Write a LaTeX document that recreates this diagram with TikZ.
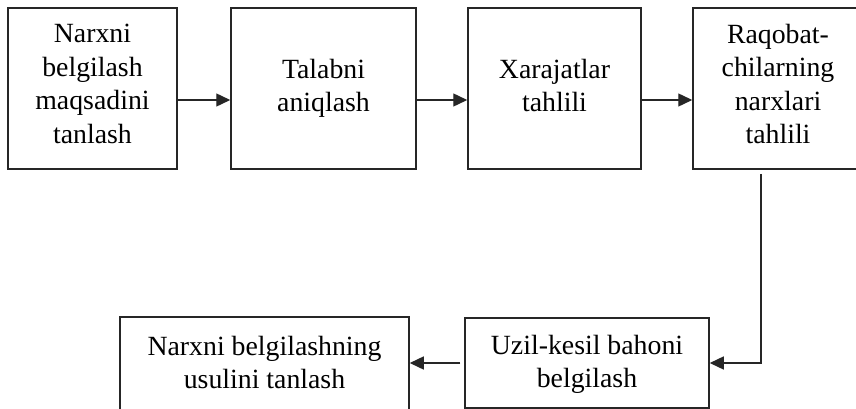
\documentclass[tikz,border=0pt]{standalone}
\usepackage{fontspec}
\setmainfont{Liberation Serif}
\usetikzlibrary{arrows.meta}
\begin{document}
\begin{tikzpicture}[x=1pt,y=-1pt,
  box/.style={draw=black!85, line width=1.5pt, rectangle, inner sep=0pt},
  lbl/.style={align=center, font=\fontsize{27.8}{33.5}\selectfont, inner sep=0pt},
  arr/.style={draw=black!85, line width=1.4pt, -{Triangle[length=14pt,width=13pt]}}]
\useasboundingbox (0,0) rectangle (856,409);

% top row of steps
\node[box, minimum width=169pt, minimum height=161pt] (b1) at (92.5,88.5) {};
\node[box, minimum width=185pt, minimum height=161pt] (b2) at (323.5,88.5) {};
\node[box, minimum width=173pt, minimum height=161pt] (b3) at (554.5,88.5) {};
\node[box, minimum width=170pt, minimum height=161pt] (b4) at (778,88.5) {};

% bottom row of steps
\node[box, minimum width=244pt, minimum height=90pt] (b5) at (587,363) {};
\node[box, minimum width=289pt, minimum height=95pt] (b6) at (264.5,364.5) {};

% step texts
\node[lbl] (t1) at (92.5,83.75) {Narxni\\belgilash\\maqsadini\\tanlash};
\node[lbl] (t2) at (323.5,88.25) {Talabni\\aniqlash};
\node[lbl] (t3) at (554.5,85.25) {Xarajatlar\\tahlili};
\node[lbl] (t4) at (778,83.75) {Raqobat-\\chilarning\\narxlari\\tahlili};
\node[lbl] (t5) at (587,364.25) {Uzil-kesil bahoni\\belgilash};
\node[lbl] (t6) at (264.5,362.25) {Narxni belgilashning\\usulini tanlash};

% connectors
\draw[arr] ([yshift=-11.5pt]b1.east) -- ([yshift=-11.5pt]b2.west);
\draw[arr] ([yshift=-11.5pt]b2.east) -- ([yshift=-11.5pt]b3.west);
\draw[arr] ([yshift=-11.5pt]b3.east) -- ([yshift=-11.5pt]b4.west);
\draw[arr] ([xshift=-17pt,yshift=-4pt]b4.south) |- (b5.east);
\draw[arr] ([xshift=-4pt]b5.west) -- (b6.east |- b5.west);
\end{tikzpicture}
\end{document}
